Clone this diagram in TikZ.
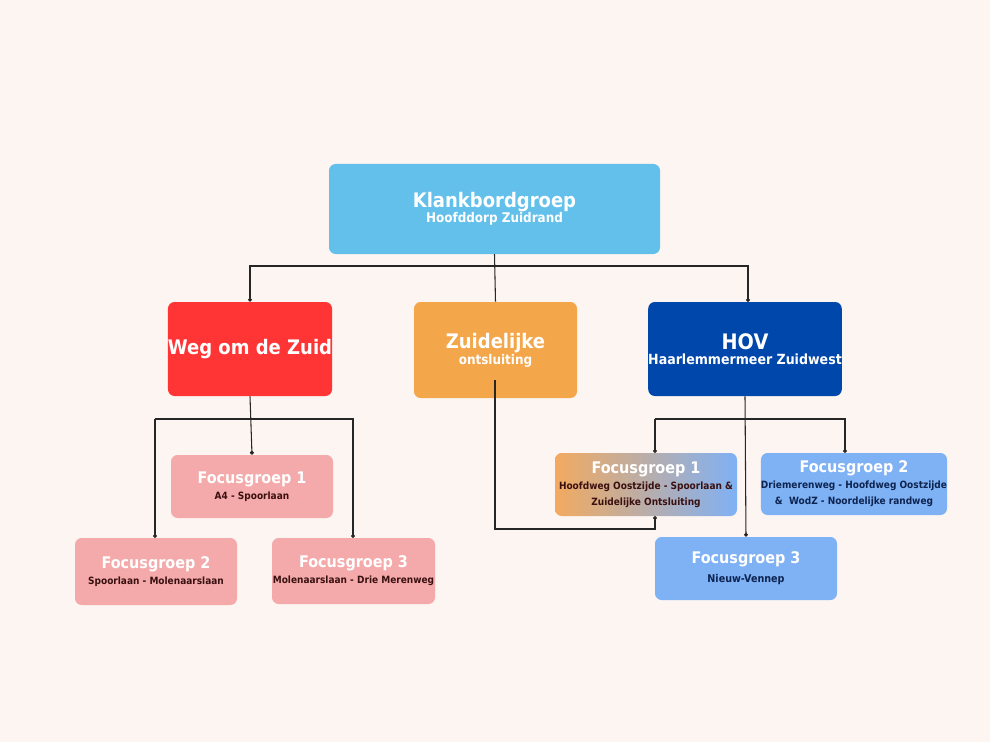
\documentclass[tikz,border=0pt]{standalone}
\usepackage{fontspec}
\setmainfont{DejaVu Sans Condensed}
\usetikzlibrary{arrows.meta}
\definecolor{bg}{HTML}{FDF5F2}
\definecolor{topc}{HTML}{63C0EB}
\definecolor{redc}{HTML}{FF3535}
\definecolor{orc}{HTML}{F4A64A}
\definecolor{hovc}{HTML}{0047AB}
\definecolor{pinkc}{HTML}{F4AAAA}
\definecolor{lbc}{HTML}{7FB1F5}
\definecolor{gro}{HTML}{F2AA60}
\definecolor{txtd}{HTML}{3A1010}
\definecolor{txtb}{HTML}{0D2450}
\begin{document}
\begin{tikzpicture}[x=0.75pt,y=-0.75pt,
  box/.style={rounded corners=5pt,inner sep=0pt,align=center,font=\bfseries},
  ln/.style={draw=black!85,line width=0.8pt},
  dt/.style={-{Circle[length=3pt]}}]
\fill[bg] (0,0) rectangle (990,742);
\useasboundingbox (0,0) rectangle (990,742);
\node[box,fill=topc,minimum width=331*0.75pt,minimum height=90*0.75pt,text=white] (top) at (494.5,209) {{\fontsize{15}{17}\selectfont Klankbordgroep}\\[-1pt]{\fontsize{10}{12}\selectfont Hoofddorp Zuidrand}};
\node[box,fill=redc,minimum width=162*0.75pt,minimum height=94*0.75pt,text=white] (weg) at (250,349) {\fontsize{15}{17}\selectfont Weg om de Zuid};
\node[box,fill=orc,minimum width=163*0.75pt,minimum height=96*0.75pt,text=white] (zuid) at (495.5,350) {\fontsize{15}{18}\selectfont Zuidelijke\\ontsluiting};
\node[box,fill=hovc,minimum width=172*0.75pt,minimum height=94*0.75pt,text=white] (hov) at (745,349) {{\fontsize{16}{18}\selectfont HOV}\\[-1pt]{\fontsize{10.5}{12}\selectfont Haarlemmermeer Zuidwest}};
\tikzset{fg/.style={box,fill=pinkc,minimum width=162*0.75pt}}
\node[fg,minimum height=63*0.75pt] (l1) at (252,486.5) {{\color{white}\fontsize{12}{14}\selectfont Focusgroep 1}\\{\color{txtd}\fontsize{7.5}{9}\selectfont A4 - Spoorlaan}};
\node[fg,minimum height=67*0.75pt] (l2) at (156,571.5) {{\color{white}\fontsize{12}{14}\selectfont Focusgroep 2}\\{\color{txtd}\fontsize{7.5}{9}\selectfont Spoorlaan - Molenaarslaan}};
\node[fg,minimum width=163*0.75pt,minimum height=66*0.75pt] (l3) at (353.5,571) {{\color{white}\fontsize{12}{14}\selectfont Focusgroep 3}\\{\color{txtd}\fontsize{7.5}{9}\selectfont Molenaarslaan - Drie Merenweg}};
\shade[left color=gro,right color=lbc,rounded corners=5pt] (555,453) rectangle (737,516);
\node[box,minimum width=182*0.75pt,minimum height=63*0.75pt] (r1) at (646,484.5) {{\color{white}\fontsize{12}{14}\selectfont Focusgroep 1}\\{\color{txtd}\fontsize{7.5}{9}\selectfont Hoofdweg Oostzijde - Spoorlaan \&}\\{\color{txtd}\fontsize{7.5}{9}\selectfont Zuidelijke Ontsluiting}};
\node[box,fill=lbc,minimum width=182*0.75pt,minimum height=62*0.75pt] (r2) at (854,484) {{\color{white}\fontsize{12}{14}\selectfont Focusgroep 2}\\{\color{txtb}\fontsize{7.5}{9}\selectfont Driemerenweg - Hoofdweg Oostzijde}\\{\color{txtb}\fontsize{7.5}{9}\selectfont \&\ \ WodZ - Noordelijke randweg}};
\node[box,fill=lbc,minimum width=182*0.75pt,minimum height=63*0.75pt] (r3) at (746,568.5) {{\color{white}\fontsize{12}{14}\selectfont Focusgroep 3}\\[2pt]{\color{txtb}\fontsize{8}{9}\selectfont Nieuw-Vennep}};
% connectors
\draw[ln] (top.south) -- (zuid.north);
\draw[ln,dt] (top.south) |- (250,266) -- (weg.north);
\draw[ln,dt] (top.south) |- (748,266) -- (748,302);
\draw[ln,dt] (weg.south) -- (l1.north);
\draw[ln,dt] (155,419) -- (353,419) -- (353,538);
\draw[ln,dt] (155,419) -- (155,538);
\draw[ln,dt] (hov.south) -- (r3.north);
\draw[ln,dt] (655,419) -- (845,419) -- (845,453);
\draw[ln,dt] (655,419) -- (655,453);
\draw[ln,dt] (495,380) -- (495,529) -- (655,529) -- (655,516);
\end{tikzpicture}
\end{document}
